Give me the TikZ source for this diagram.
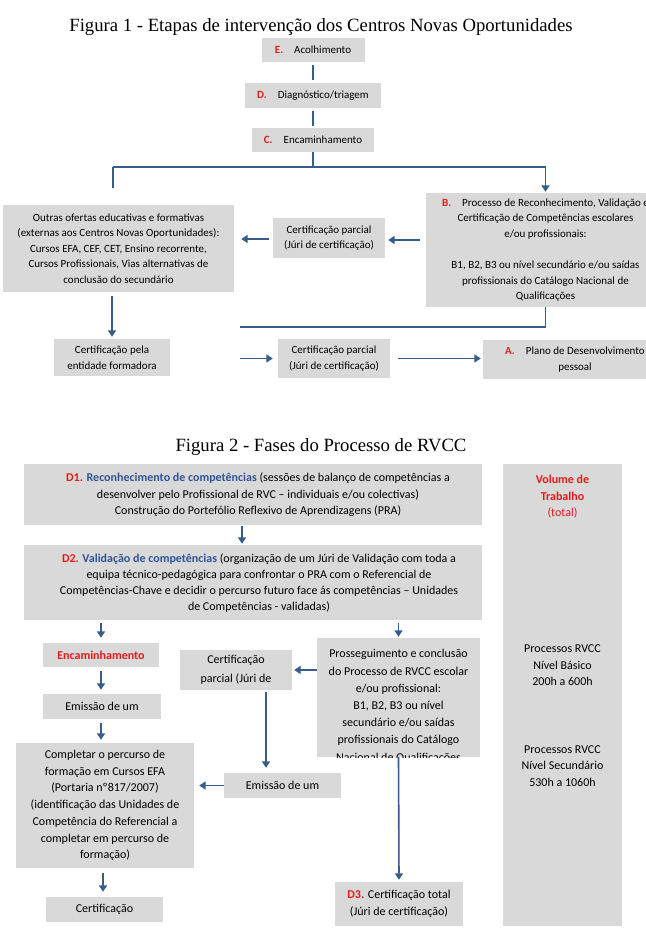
\documentclass[tikz,border=0pt]{standalone}
\usepackage{fontspec}
\setmainfont{Carlito}
\newfontfamily\titlefont{Liberation Serif}
\usetikzlibrary{arrows.meta,calc}
\definecolor{boxgray}{RGB}{217,217,217}
\definecolor{linkblue}{RGB}{56,93,138}
\definecolor{lblred}{RGB}{230,25,25}
\definecolor{txtblue}{RGB}{47,85,151}
\newcommand{\lbl}[1]{\textcolor{lblred}{\textbf{#1}}}
\begin{document}
\begin{tikzpicture}[x=1pt,y=-1pt,
  boxa/.style={fill=boxgray, inner sep=0pt, align=center, font=\fontsize{11}{15.6}\selectfont},
  boxb/.style={fill=boxgray, inner sep=0pt, align=center, font=\fontsize{12}{16.5}\selectfont},
  txtb/.style={inner sep=0pt, align=center, font=\fontsize{12}{16.5}\selectfont},
  plainline/.style={draw=linkblue, line width=1.6pt},
  arrowline/.style={plainline, -{Triangle[length=6.5pt,width=8pt]}},
  titletext/.style={font=\titlefont\fontsize{18.7}{20}\selectfont, inner sep=0pt}
]
\useasboundingbox[fill=white] (0,0) rectangle (645,947);

% ---------------- Figure 1 ----------------
\node[titletext] (t1) at (321,27) {Figura 1 - Etapas de intervenção dos Centros Novas Oportunidades};

\node[boxa, minimum width=103pt, minimum height=24pt] (E) at (313,50) {\lbl{E.}\hspace{11pt}Acolhimento};
\node[boxa, minimum width=136pt, minimum height=25pt] (D) at (313,95.5) {\lbl{D.}\hspace{11pt}Diagnóstico/triagem};
\node[boxa, minimum width=122pt, minimum height=24pt] (C) at (313,140) {\lbl{C.}\hspace{11pt}Encaminhamento};

\node[boxa, minimum width=239pt, minimum height=114pt] (B) at (545.5,250)
  {\lbl{B.}\hspace{11pt}Processo de Reconhecimento, Validação e\\
   Certificação de Competências escolares\\e/ou profissionais:\\[15.6pt]
   B1, B2, B3 ou nível secundário e/ou saídas\\
   profissionais do Catálogo Nacional de\\Qualificações};
\node[boxa, minimum width=112pt, minimum height=40pt] (CP1) at (329,238)
  {Certificação parcial\\(Júri de certificação)};
\node[boxa, minimum width=231pt, minimum height=87pt] (O) at (118.5,248.5)
  {Outras ofertas educativas e formativas\\
   (externas aos Centros Novas Oportunidades):\\
   Cursos EFA, CEF, CET, Ensino recorrente,\\
   Cursos Profissionais, Vias alternativas de\\
   conclusão do secundário};
\node[boxa, minimum width=116pt, minimum height=37pt] (CF) at (112,357.5)
  {Certificação pela\\entidade formadora};
\node[boxa, minimum width=112pt, minimum height=39pt] (CP2) at (334,358.5)
  {Certificação parcial\\(Júri de certificação)};
\node[boxa, minimum width=184pt, minimum height=39pt] (A) at (575,359.5)
  {\lbl{A.}\hspace{11pt}Plano de Desenvolvimento\\pessoal};

\coordinate (j) at (313,167);
\coordinate (jl) at (113,167);
\coordinate (jr) at (545.5,167);
\coordinate (lend) at (113,188);
\coordinate (bb) at (545.5,327);
\coordinate (bl) at (240,327);
\coordinate (al) at (240,358.5);

\draw[plainline] ($(E.south)+(0,3)$) -- ($(D.north)+(0,-3)$);
\draw[plainline] ($(D.south)+(0,3)$) -- ($(C.north)+(0,-2)$);
\draw[plainline] (C.south) -- (j);
\draw[plainline] (jl) -- (jr);
\draw[plainline] (jl) -- (lend);
\draw[arrowline] (jr) -- ($(B.north)+(0,-1)$);
\draw[arrowline] ($(B.west |- CP1.east)+(-6,2)$) -- ($(CP1.east)+(3,2)$);
\draw[arrowline] ($(CP1.west)+(-4,1)$) -- ($(O.east |- CP1.west)+(7,1)$);
\draw[arrowline] ($(O.south -| CF.north)+(0,4)$) -- ($(CF.north)+(0,-2)$);
\draw[plainline] (B.south) -- (bb) -- (bl);
\draw[arrowline] (al) -- ($(CP2.west)+(-5,0)$);
\draw[arrowline] ($(CP2.east)+(8,0)$) -- ($(A.west |- CP2.east)+(-2,0)$);

% ---------------- Figure 2 ----------------
\node[titletext] (t2) at (321,447) {Figura 2 - Fases do Processo de RVCC};

\node[boxb, minimum width=458pt, minimum height=61pt] (D1) at (253,494.5) {};
\node[txtb] (D1t) at (258,495)
  {\lbl{D1.} \textcolor{txtblue}{\textbf{Reconhecimento de competências}} (sessões de balanço de competências a\\
   desenvolver pelo Profissional de RVC – individuais e/ou colectivas)\\
   Construção do Portefólio Reflexivo de Aprendizagens (PRA)};

\node[boxb, minimum width=119pt, minimum height=462pt] (V) at (562.5,695) {};
\node[txtb, text=lblred] (Vt1) at (562.5,497) {\textbf{Volume de}\\\textbf{Trabalho}\\(total)};
\node[txtb] (Vt2) at (562.5,665.5) {Processos RVCC\\Nível Básico\\200h a 600h};
\node[txtb] (Vt3) at (562.5,766) {Processos RVCC\\Nível Secundário\\530h a 1060h};

\node[boxb, minimum width=458pt, minimum height=75pt] (D2) at (253,582.5) {};
\node[txtb, font=\fontsize{12}{16}\selectfont] (D2t) at (259,583)
  {\lbl{D2.} \textcolor{txtblue}{\textbf{Validação de competências}} (organização de um Júri de Validação com toda a\\
   equipa técnico-pedagógica para confrontar o PRA com o Referencial de\\
   Competências-Chave e decidir o percurso futuro face ás competências – Unidades\\
   de Competências - validadas)};

\node[boxb, minimum width=116pt, minimum height=24pt] (Enc) at (101,655) {\lbl{Encaminhamento}};
\node[boxb, minimum width=118pt, minimum height=25pt] (Em1) at (102,706.5) {Emissão de um};
\node[boxb, minimum width=178pt, minimum height=125pt, font=\fontsize{12}{16.7}\selectfont] (Comp) at (105,805.5)
  {Completar o percurso de\\formação em Cursos EFA\\(Portaria nº817/2007)\\
   (identificação das Unidades de\\Competência do Referencial a\\
   completar em percurso de\\formação)};
\node[boxb, minimum width=117pt, minimum height=25pt] (Cert) at (104.5,909.5) {Certificação};

\node[boxb, minimum width=112pt, minimum height=40pt, font=\fontsize{12}{18.5}\selectfont] (CP3) at (236,670)
  {Certificação\\parcial (Júri de};

\node[boxb, minimum width=163pt, minimum height=119pt] (P) at (398.5,697.5) {};
\begin{scope}
  \clip (P.south west) rectangle (P.north east);
  \node[txtb, anchor=north, font=\fontsize{12}{17.2}\selectfont] (Pt) at ($(P.north)+(0,11.5)$)
    {Prosseguimento e conclusão\\do Processo de RVCC escolar\\e/ou profissional:\\
     B1, B2, B3 ou nível\\secundário e/ou saídas\\profissionais do Catálogo\\
     Nacional de Qualificações};
\end{scope}

\node[boxb, minimum width=117pt, minimum height=25pt] (Em2) at (282.5,785.5) {Emissão de um};
\node[boxb, minimum width=128pt, minimum height=44pt] (D3) at (399,904)
  {\lbl{D3.} Certificação total\\(Júri de certificação)};

\draw[arrowline] ($(D1.south)+(-11,1)$) -- ($(D2.north)+(-11,-1)$);
\draw[arrowline] ($(D2.south -| Enc.north)+(0,3)$) -- ($(Enc.north)+(0,-5)$);
\draw[arrowline] ($(D2.south -| P.north)+(0,3)$) -- ($(P.north)+(0,-1)$);
\draw[arrowline] ($(Enc.south)+(0,4)$) -- ($(Em1.north -| Enc.south)+(0,-4)$);
\draw[arrowline] ($(Em1.south -| Enc.south)+(0,4)$) -- ($(Comp.north -| Enc.south)+(0,-3)$);
\draw[arrowline] ($(Comp.south)+(-2,5)$) -- ($(Comp.south |- Cert.north)+(-2,-5)$);
\draw[arrowline] (P.west |- CP3.east) -- ($(CP3.east)+(2,0)$);
\draw[arrowline] ($(CP3.south)+(30,2)$) -- ($(CP3.south |- Em2.north)+(30,-5)$);
\draw[arrowline] (Em2.west) -- ($(Comp.east |- Em2.west)+(5,0)$);
\draw[arrowline] (P.south) -- ($(D3.north)+(0,-2)$);
\end{tikzpicture}
\end{document}
